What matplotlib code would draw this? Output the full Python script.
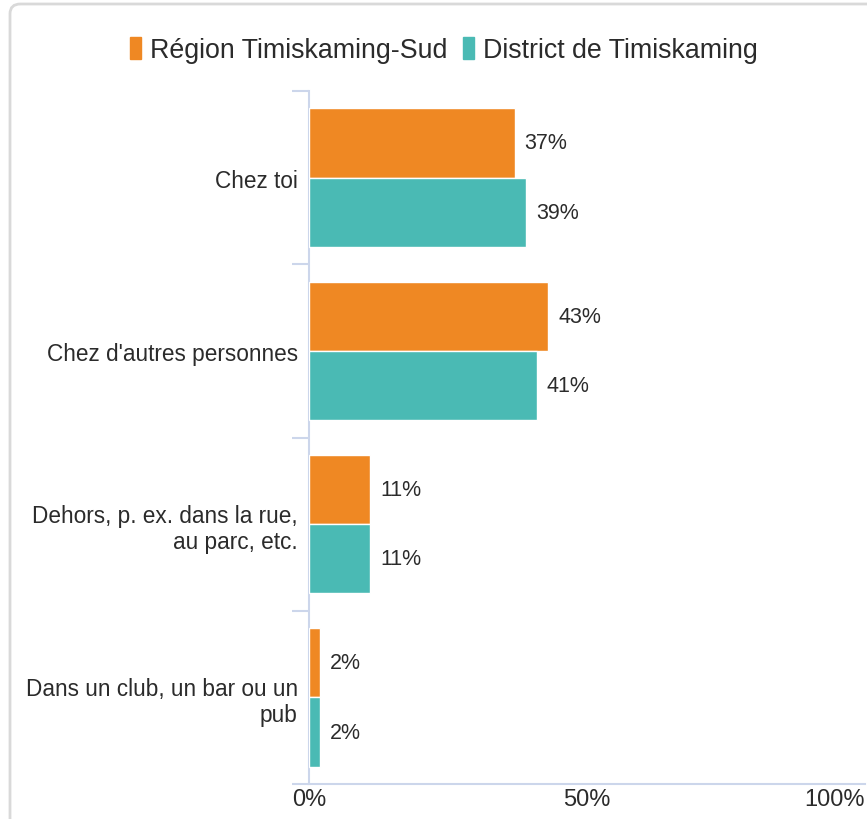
import matplotlib
matplotlib.use('Agg')
import matplotlib.pyplot as plt
from matplotlib.patches import FancyBboxPatch, Rectangle

plt.rcParams['font.family'] = ['Liberation Sans', 'DejaVu Sans']

categories = ["Chez toi", "Chez d'autres personnes",
              "Dehors, p. ex. dans la rue,\nau parc, etc.",
              "Dans un club, un bar ou un\npub"]
series_names = ["Région Timiskaming-Sud", "District de Timiskaming"]
region_vals = [37, 43, 11, 2]
district_vals = [39, 41, 11, 2]
colors = ['#EF8823', '#4ABAB4']
axis_col = '#ccd6eb'
txt_col = '#2b2b2b'

W, H = 867, 820
fig = plt.figure(figsize=(W / 100, H / 100), dpi=100)

# cadre gris arrondi (coupe a droite et en bas)
frame = FancyBboxPatch((10 / W, -0.2), 1.2, 1.2 - 5 / H,
                       boxstyle='round,pad=0,rounding_size=0.012',
                       transform=fig.transFigure, fc='none', ec='#d9d9d9', lw=2,
                       zorder=-1)
fig.patches.append(frame)

ax = fig.add_axes([309 / W, 35 / H, 556 / W, 693 / H])
ax.patch.set_alpha(0)

y = list(range(len(categories)))
h = 0.4
ax.barh([i - h / 2 for i in y], region_vals, height=h, color=colors[0],
        edgecolor='white', linewidth=1, zorder=3)
ax.barh([i + h / 2 for i in y], district_vals, height=h, color=colors[1],
        edgecolor='white', linewidth=1, zorder=3)

for i in y:
    ax.text(region_vals[i] + 1.8, i - h / 2, f"{region_vals[i]}%", va='center',
            ha='left', fontsize=15.5, color=txt_col)
    ax.text(district_vals[i] + 1.8, i + h / 2, f"{district_vals[i]}%", va='center',
            ha='left', fontsize=15.5, color=txt_col)

ax.set_xlim(0, 100)
ax.set_ylim(3.5, -0.5)
ax.set_yticks(y)
ax.set_yticklabels(categories, fontsize=16.3, color=txt_col, ha='right',
                   linespacing=1.2)
ax.set_yticks([-0.5, 0.5, 1.5, 2.5, 3.5], minor=True)
ax.tick_params(axis='y', which='major', length=0, pad=8)
ax.tick_params(axis='y', which='minor', length=12, width=1.5, color=axis_col)

ax.set_xticks([0, 50, 100])
ax.set_xticklabels(['0%', '50%', '100%'], fontsize=17, color=txt_col)
ax.get_xticklabels()[-1].set_ha('right')
ax.tick_params(axis='x', length=0, pad=3)

for s in ['top', 'right']:
    ax.spines[s].set_visible(False)
ax.spines['left'].set_color(axis_col)
ax.spines['left'].set_linewidth(1.5)
ax.spines['bottom'].set_color(axis_col)
ax.spines['bottom'].set_linewidth(1.5)

handles = [Rectangle((0, 0), 1, 1, color=c) for c in colors]
fig.legend(handles, series_names, loc='center', bbox_to_anchor=(444 / W, 1 - 51 / H),
           ncol=2, frameon=False, fontsize=19.3, handlelength=0.4, handleheight=0.9,
           handletextpad=0.35, columnspacing=0.6, labelcolor=txt_col)

fig.savefig('out.png', dpi=100)
